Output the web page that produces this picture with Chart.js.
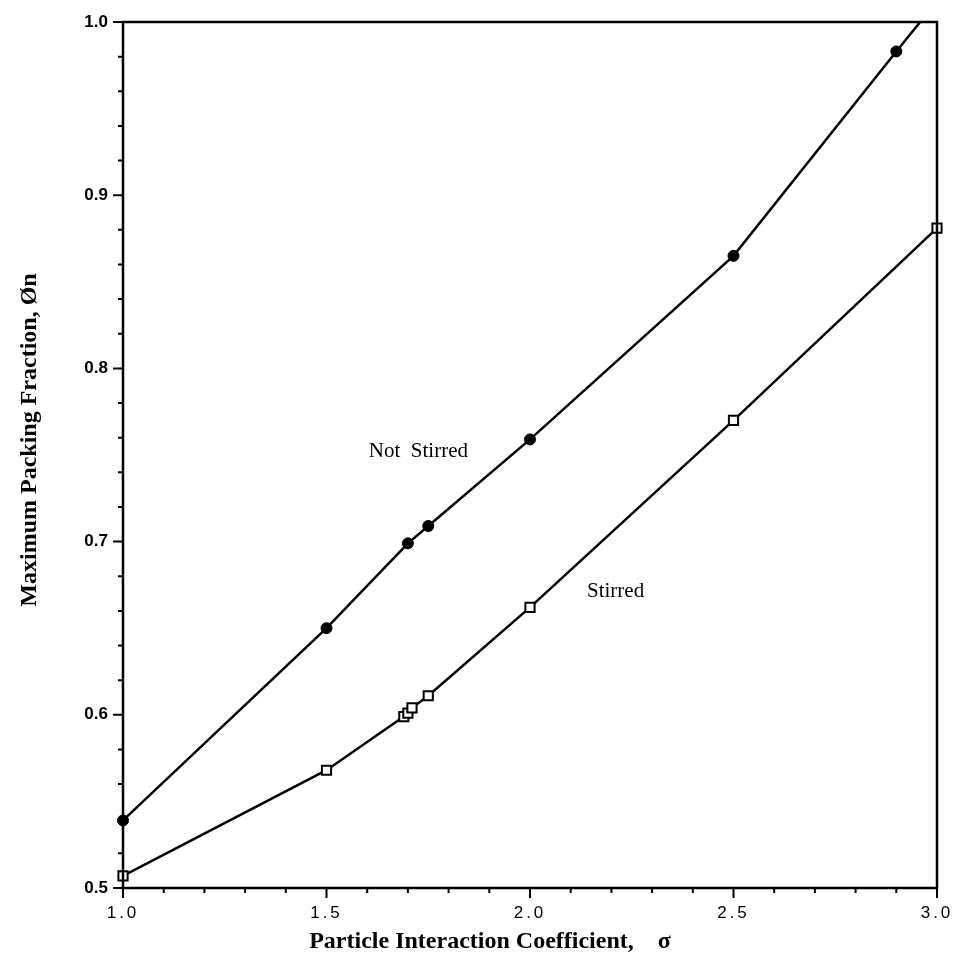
<!DOCTYPE html>
<html>
<head>
<meta charset="utf-8">
<script src="https://cdn.jsdelivr.net/npm/chart.js@4"></script>
<style>
  html, body { margin: 0; padding: 0; background: #fff; }
  #wrap { width: 957px; height: 965px; position: relative; }
</style>
</head>
<body>
<div id="wrap"><canvas id="packingChart"></canvas></div>
<script>
// values
const notStirredX = [1.0, 1.5, 1.7, 1.75, 2.0, 2.5, 2.9, 3.0];
const notStirredY = [0.539, 0.650, 0.699, 0.709, 0.759, 0.865, 0.983, 1.012];
const stirredX = [1.0, 1.5, 1.69, 1.70, 1.71, 1.75, 2.0, 2.5, 3.0];
const stirredY = [0.507, 0.568, 0.599, 0.601, 0.604, 0.611, 0.662, 0.770, 0.881];

const xTickLabels = ['1.0', '1.5', '2.0', '2.5', '3.0'];
const yTickLabels = ['0.5', '0.6', '0.7', '0.8', '0.9', '1.0'];

const xTitle = 'Particle Interaction Coefficient,\u00a0\u00a0\u00a0\u00a0\u03c3';
const yTitle = 'Maximum Packing Fraction, \u00d8n';

const toPoints = (xs, ys) => xs.map((x, i) => ({ x: x, y: ys[i] }));

const isMultiple = (v, step) => Math.abs(v / step - Math.round(v / step)) < 1e-6;

// box around the plot, ticks pointing outwards, axis titles and curve labels
const framePlugin = {
    id: 'frame',
    afterDraw(chart) {
        const ctx = chart.ctx;
        const area = chart.chartArea;
        const xs = chart.scales.x;
        const ys = chart.scales.y;
        ctx.save();
        ctx.strokeStyle = '#000';
        ctx.lineWidth = 2.5;
        ctx.strokeRect(area.left, area.top, area.right - area.left, area.bottom - area.top);

        ctx.lineWidth = 2;
        ctx.beginPath();
        xs.ticks.forEach(t => {
            const px = xs.getPixelForValue(t.value);
            const len = isMultiple(t.value, 0.5) ? 10 : 5;
            ctx.moveTo(px, area.bottom);
            ctx.lineTo(px, area.bottom + len);
        });
        ys.ticks.forEach(t => {
            const py = ys.getPixelForValue(t.value);
            const len = isMultiple(t.value, 0.1) ? 10 : 5;
            ctx.moveTo(area.left, py);
            ctx.lineTo(area.left - len, py);
        });
        ctx.stroke();

        ctx.fillStyle = '#000';
        ctx.font = 'bold 24px "Liberation Serif"';
        ctx.textAlign = 'center';
        ctx.textBaseline = 'middle';
        ctx.fillText(xTitle, 490, 942);

        ctx.save();
        ctx.translate(30, 440);
        ctx.rotate(-Math.PI / 2);
        ctx.fillText(yTitle, 0, 0);
        ctx.restore();

        ctx.font = '21px "Liberation Serif"';
        ctx.textAlign = 'left';
        ctx.fillText('Not\u00a0 Stirred', xs.getPixelForValue(1.604), ys.getPixelForValue(0.752));
        ctx.fillText('Stirred', xs.getPixelForValue(2.14), ys.getPixelForValue(0.671));
        ctx.restore();
    }
};

// x tick labels in the figure are set with wide letter spacing
const spacedLabels = (scale) => {
    const base = Chart.Scale.prototype.drawLabels;
    scale.drawLabels = function (area) {
        const c = this.ctx;
        c.save();
        c.letterSpacing = '3px';
        base.call(this, area);
        c.restore();
    };
};

const ctx = document.getElementById('packingChart').getContext('2d');

new Chart(ctx, {
    type: 'line',
    data: {
        datasets: [
            {
                label: 'Not Stirred',
                data: toPoints(notStirredX, notStirredY),
                borderColor: '#000',
                borderWidth: 2.5,
                backgroundColor: '#000',
                pointBackgroundColor: '#000',
                pointBorderColor: '#000',
                pointStyle: 'circle',
                pointRadius: notStirredY.map(v => v > 1 ? 0 : 5.5),
                pointBorderWidth: 1,
                tension: 0,
                clip: { left: 10, right: 10, top: 0, bottom: 10 }
            },
            {
                label: 'Stirred',
                data: toPoints(stirredX, stirredY),
                borderColor: '#000',
                borderWidth: 2.5,
                pointBackgroundColor: '#fff',
                pointBorderColor: '#000',
                pointStyle: 'rect',
                pointRadius: 6.5,
                pointBorderWidth: 2,
                tension: 0,
                clip: 10
            }
        ]
    },
    options: {
        responsive: true,
        maintainAspectRatio: false,
        animation: false,
        events: [],
        layout: { padding: { left: 0, right: 20, top: 22, bottom: 0 } },
        plugins: {
            legend: { display: false },
            tooltip: { enabled: false }
        },
        scales: {
            x: {
                type: 'linear',
                min: 1.0,
                max: 3.0,
                grid: { display: false, drawTicks: false },
                border: { display: false },
                ticks: {
                    stepSize: 0.1,
                    autoSkip: false,
                    maxRotation: 0,
                    padding: 15,
                    color: '#000',
                    font: { family: '"Liberation Sans"', size: 17 },
                    callback: (v) => {
                        const s = v.toFixed(1);
                        return isMultiple(v, 0.5) && xTickLabels.includes(s) ? s : '';
                    }
                },
                afterFit: (scale) => {
                    scale.height = 77;
                    scale.paddingLeft = 0;
                    scale.paddingRight = 0;
                    spacedLabels(scale);
                }
            },
            y: {
                type: 'linear',
                min: 0.5,
                max: 1.0,
                grid: { display: false, drawTicks: false },
                border: { display: false },
                ticks: {
                    stepSize: 0.02,
                    autoSkip: false,
                    padding: 15,
                    color: '#000',
                    font: { family: '"Liberation Sans"', size: 17, weight: 'bold' },
                    callback: (v) => {
                        const s = v.toFixed(1);
                        return isMultiple(v, 0.1) && yTickLabels.includes(s) ? s : '';
                    }
                },
                afterFit: (scale) => {
                    scale.width = 123;
                    scale.paddingTop = 0;
                    scale.paddingBottom = 0;
                }
            }
        }
    },
    plugins: [framePlugin]
});
</script>
</body>
</html>
